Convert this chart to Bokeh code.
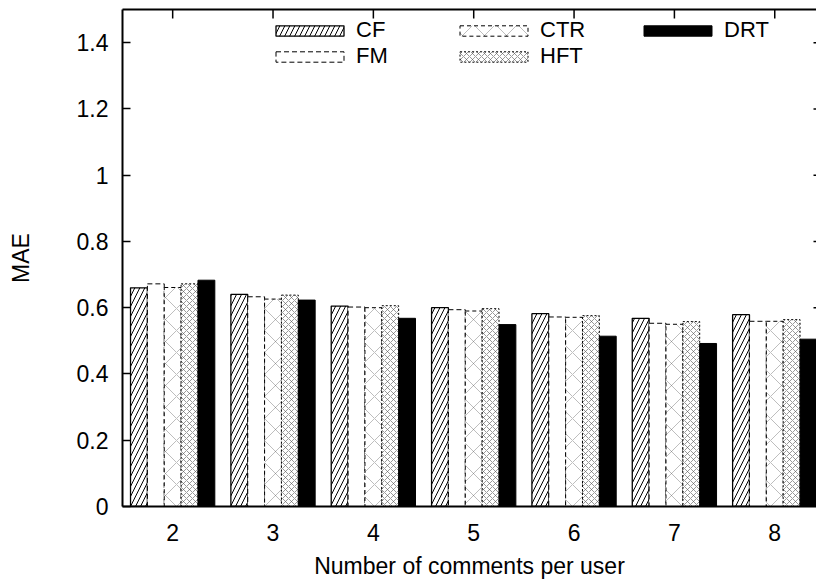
from bokeh.plotting import figure
from bokeh.models import (FixedTicker, LinearAxis, Legend, LegendItem, Range1d,
                          ColumnDataSource)
from bokeh.transform import dodge
from bokeh.embed import file_html
from bokeh.resources import INLINE

# ---- data ----
categories = [2, 3, 4, 5, 6, 7, 8]
cf  = [0.660, 0.640, 0.605, 0.600, 0.582, 0.568, 0.579]
fm  = [0.672, 0.633, 0.602, 0.594, 0.572, 0.553, 0.559]
ctr = [0.661, 0.626, 0.600, 0.590, 0.571, 0.550, 0.559]
hft = [0.672, 0.638, 0.606, 0.597, 0.576, 0.558, 0.564]
drt = [0.683, 0.623, 0.568, 0.549, 0.514, 0.492, 0.505]
series_names = ["CF", "FM", "CTR", "HFT", "DRT"]
y_ticks = [0, 0.2, 0.4, 0.6, 0.8, 1.0, 1.2, 1.4]
y_tick_labels = ["0", "0.2", "0.4", "0.6", "0.8", "1", "1.2", "1.4"]
x_tick_labels = ["2", "3", "4", "5", "6", "7", "8"]

FONT = "Liberation Sans"
X0, X1, Y0, Y1 = 1.5, 8.416, 0.0, 1.5
FRAME_W = 816 - 122
FRAME_H = 507 - 9

src = ColumnDataSource(dict(x=categories, CF=cf, FM=fm, CTR=ctr, HFT=hft, DRT=drt))

p = figure(width=816, height=581, x_range=Range1d(X0, X1), y_range=Range1d(Y0, Y1),
           output_backend="svg", toolbar_location=None,
           min_border_left=122, min_border_right=0, min_border_top=9, min_border_bottom=74,
           outline_line_color=None, background_fill_color="white",
           x_axis_label="Number of comments per user", y_axis_label="MAE")
p.xgrid.visible = False
p.ygrid.visible = False

bw = 0.168
styles = {
    "CF":  dict(fill_color="white", line_color="black", line_width=1.3, hatch_pattern="/",
                hatch_scale=10, hatch_weight=1.0, hatch_color="black"),
    "FM":  dict(fill_color="white", line_color="black", line_width=1.0, line_dash="5 3"),
    "CTR": dict(fill_color="white", line_color="black", line_width=1.0, line_dash="4 3",
                hatch_pattern="x", hatch_scale=22, hatch_weight=0.6, hatch_color="#333333",
                hatch_alpha=0.55),
    "HFT": dict(fill_color="white", line_color="black", line_width=1.0, line_dash="2 2",
                hatch_pattern="x", hatch_scale=6, hatch_weight=0.6, hatch_color="#555555"),
    "DRT": dict(fill_color="black", line_color="black", line_width=1.0),
}
renderers = []
for i, name in enumerate(series_names):
    off = (i - 2) * bw
    r = p.vbar(x=dodge("x", off), top=name, width=bw, source=src, **styles[name])
    renderers.append(r)

# axes
xa = p.xaxis[0]
xa.ticker = FixedTicker(ticks=categories)
xa.major_label_overrides = {c: l for c, l in zip(categories, x_tick_labels)}
xa.major_tick_in = 0
xa.major_tick_out = 0
xa.minor_tick_line_color = None
xa.axis_line_width = 2
xa.major_label_standoff = 17
xa.axis_label_standoff = 9
ya = p.yaxis[0]
ya.ticker = FixedTicker(ticks=y_ticks)
ya.major_label_overrides = {t: l for t, l in zip(y_ticks, y_tick_labels)}
ya.major_tick_in = 8
ya.major_tick_out = 0
ya.major_tick_line_width = 1.5
ya.minor_tick_line_color = None
ya.axis_line_width = 2
ya.major_label_standoff = 14
ya.axis_label_standoff = 40
for ax in (xa, ya):
    ax.major_label_text_font = FONT
    ax.major_label_text_font_size = "23px"
    ax.major_label_text_color = "black"
    ax.axis_label_text_font = FONT
    ax.axis_label_text_font_size = "23px"
    ax.axis_label_text_font_style = "normal"
    ax.axis_label_text_color = "black"

# top border line (no ticks / labels on the axis itself)
top = LinearAxis(ticker=FixedTicker(ticks=[]), major_tick_in=0, major_tick_out=0,
                 minor_tick_line_color=None, axis_line_width=2, major_label_standoff=0)
p.add_layout(top, "above")

# mirrored inward tick marks (top and right edge), derived from the tick arrays
tick_len_y = 9 * (Y1 - Y0) / FRAME_H
tick_len_x = 3 * (X1 - X0) / FRAME_W
p.segment(x0=categories, y0=[Y1] * len(categories), x1=categories,
          y1=[Y1 - tick_len_y] * len(categories), line_color="black", line_width=1.5)
p.segment(x0=[X1] * len(y_ticks), y0=y_ticks, x1=[X1 - tick_len_x] * len(y_ticks),
          y1=y_ticks, line_color="black", line_width=1.5)

legend = Legend(items=[LegendItem(label=n, renderers=[r]) for n, r in zip(series_names, renderers)],
                nrows=2, orientation="vertical", location=(145, 437),
                glyph_width=85, glyph_height=13, label_height=20, label_standoff=4,
                label_width=95, spacing=-2, padding=0, margin=0,
                border_line_color=None, background_fill_alpha=0,
                label_text_font=FONT, label_text_font_size="22px", label_text_color="black")
p.add_layout(legend)

open("out.html", "w").write(file_html(p, INLINE))
